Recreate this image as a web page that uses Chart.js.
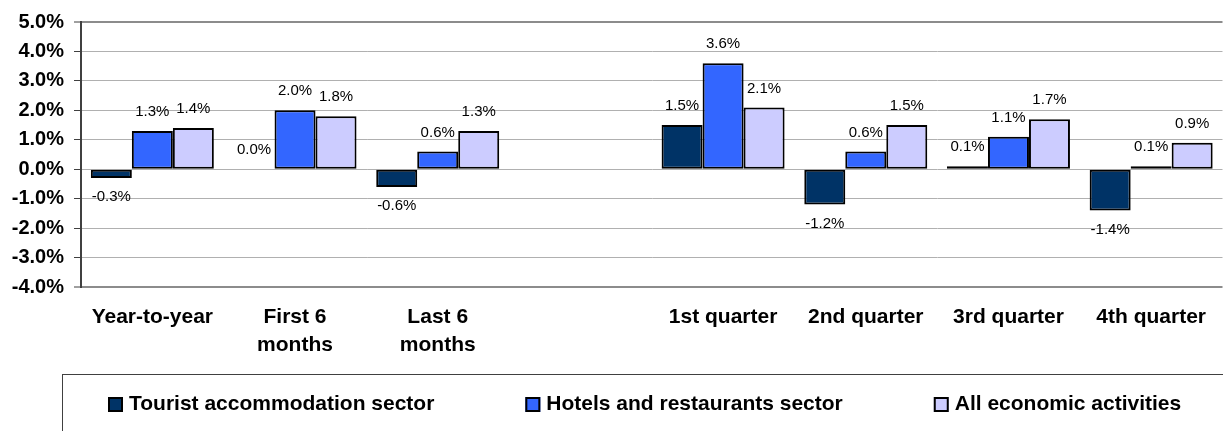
<!DOCTYPE html>
<html>
<head>
<meta charset="utf-8">
<script src="https://cdn.jsdelivr.net/npm/chart.js@4.4.1/dist/chart.umd.min.js"></script>
<style>
html,body{margin:0;padding:0;background:#fff;overflow:hidden}
#wrap{width:1223px;height:431px;position:relative}
canvas{display:block}
</style>
</head>
<body>
<div id="wrap"><canvas id="c" width="1223" height="431"></canvas></div>
<script>
// ---- data ----
const categories = ['Year-to-year', ['First 6', 'months'], ['Last 6', 'months'], '', '1st quarter', '2nd quarter', '3rd quarter', '4th quarter'];
const seriesNames = ['Tourist accommodation sector', 'Hotels and restaurants sector', 'All economic activities'];
const tourist = [-0.3, 0.0, -0.6, null, 1.5, -1.2, 0.1, -1.4];
const hotels = [1.3, 2.0, 0.6, null, 3.6, 0.6, 1.1, 0.1];
const allActivities = [1.4, 1.8, 1.3, null, 2.1, 1.5, 1.7, 0.9];
const yMin = -4;
const yMax = 5;
const yStep = 1;

// ---- styles ----
const FONT = "'Liberation Sans', Arial, Helvetica, sans-serif";
const colors = ['#003366', '#3366FF', '#CCCCFF'];

const valueLabels = {
  id: 'valueLabels',
  afterDatasetsDraw(chart) {
    const ctx = chart.ctx;
    ctx.save();
    ctx.font = '15px ' + FONT;
    ctx.fillStyle = '#000';
    ctx.textAlign = 'center';
    ctx.textBaseline = 'middle';
    chart.data.datasets.forEach((ds, di) => {
      const meta = chart.getDatasetMeta(di);
      meta.data.forEach((bar, i) => {
        const v = ds.data[i];
        if (v === null || v === undefined) return;
        const y = v >= 0 ? bar.y - 19 : bar.y + 19;
        ctx.fillText(v.toFixed(1) + '%', bar.x, y);
      });
    });
    ctx.restore();
  }
};

const boxedLegend = {
  id: 'boxedLegend',
  afterDraw(chart) {
    const ctx = chart.ctx;
    ctx.save();
    ctx.strokeStyle = '#404040';
    ctx.lineWidth = 1;
    ctx.strokeRect(62.5, 374.5, 1300, 100);
    ctx.font = 'bold 21px ' + FONT;
    ctx.textBaseline = 'middle';
    ctx.textAlign = 'left';
    const box = 15, gap = 6, spacing = 91, cy = 404.5;
    let x = 108;
    chart.data.datasets.forEach(ds => {
      ctx.fillStyle = ds.backgroundColor;
      ctx.fillRect(x, cy - box / 2, box, box);
      ctx.strokeStyle = '#000';
      ctx.lineWidth = 2;
      ctx.strokeRect(x + 1, cy - box / 2 + 1, box - 2, box - 2);
      ctx.fillStyle = '#000';
      ctx.fillText(ds.label, x + box + gap, cy);
      x += box + gap + ctx.measureText(ds.label).width + spacing;
    });
    ctx.restore();
  }
};

const seriesData = [tourist, hotels, allActivities];
const datasets = seriesNames.map((name, i) => ({
  label: name,
  data: seriesData[i],
  backgroundColor: colors[i],
  borderColor: '#000',
  borderWidth: 2,
  borderSkipped: false,
  categoryPercentage: 0.862,
  barPercentage: 1.0
}));

new Chart(document.getElementById('c'), {
  type: 'bar',
  data: { labels: categories, datasets },
  plugins: [valueLabels, boxedLegend],
  options: {
    responsive: false,
    animation: false,
    layout: { padding: { top: 19, right: 0, bottom: 0, left: 0 } },
    plugins: { legend: { display: false }, tooltip: { enabled: false } },
    scales: {
      x: {
        grid: { display: false, drawTicks: false },
        border: { display: false },
        ticks: {
          color: '#000',
          font: { family: FONT, size: 21, weight: 'bold', lineHeight: 1.3 },
          padding: 17,
          maxRotation: 0,
          autoSkip: false
        },
        afterFit(s) { s.height = 144; }
      },
      y: {
        min: yMin,
        max: yMax,
        ticks: {
          stepSize: yStep,
          color: '#000',
          font: { family: FONT, size: 20, weight: 'bold' },
          padding: 10,
          callback: v => Number(v).toFixed(1) + '%'
        },
        grid: {
          color: c => (c.tick && (c.tick.value === yMax || c.tick.value === yMin)) ? '#8c8c8c' : '#b0b0b0',
          lineWidth: c => (c.tick && (c.tick.value === yMax || c.tick.value === yMin)) ? 2 : 1,
          tickLength: 7,
          tickColor: '#404040',
          tickWidth: 1
        },
        border: { color: '#404040', width: 2 },
        afterFit(s) { s.width = 81; }
      }
    }
  }
});
</script>
</body>
</html>
